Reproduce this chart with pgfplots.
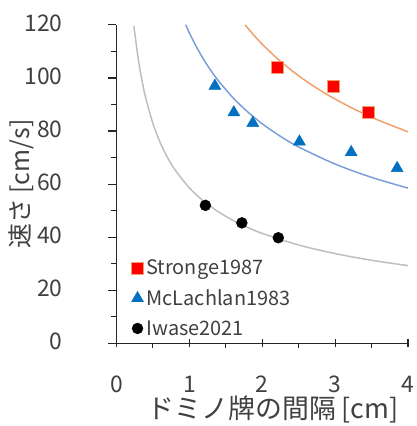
\documentclass[border=0pt]{standalone}
\usepackage{fontspec}
\setmainfont{Noto Sans CJK JP}
\usepackage{pgfplots}
\pgfplotsset{compat=1.18}
\definecolor{corange}{RGB}{240,160,106}
\definecolor{cblue}{RGB}{122,158,217}
\definecolor{cgray}{RGB}{190,190,190}
\definecolor{cred}{RGB}{255,0,0}
\definecolor{ctri}{RGB}{0,112,192}
\definecolor{ctext}{RGB}{64,64,64}
\begin{document}
\begin{tikzpicture}
\begin{axis}[
  scale only axis,
  width=293pt, height=320pt,
  xmin=0, xmax=4, ymin=0, ymax=120,
  axis lines=left,
  axis line style={-, line width=1.2pt, black!85},
  xtick={0,1,2,3,4}, ytick={0,20,...,120},
  minor xtick={0.5,1.5,2.5,3.5},
  minor ytick={10,30,...,110},
  tick align=outside,
  major tick length=8pt, minor tick length=5pt,
  every tick/.style={black!85, line width=1.2pt},
  major x tick style={yshift=4pt},
  /pgf/number format/assume math mode=true,
  tick label style={font=\fontsize{23}{25}\selectfont, ctext, inner sep=0pt},
  xticklabel style={anchor=center, yshift=-33pt},
  yticklabel style={anchor=east, xshift=-46pt, yshift=2pt},
  xlabel={ドミノ牌の間隔 [cm]},
  ylabel={速さ [cm/s]},
  every axis x label/.style={at={(axis description cs:0.5,0)}, anchor=center, xshift=11pt, yshift=-66pt, font=\fontsize{27}{29}\selectfont, text=ctext},
  every axis y label/.style={at={(axis description cs:0,0.5)}, anchor=center, rotate=90, yshift=96pt, font=\fontsize{25}{27}\selectfont, text=ctext},
  legend style={draw=none, fill=none, at={(0.051,0.266)}, anchor=north west,
    font=\fontsize{20}{22}\selectfont, row sep=11.5pt, inner sep=0pt,
    nodes={inner xsep=3pt, inner ysep=1pt, text=ctext}},
  legend image code/.code={\draw[mark repeat=2,mark phase=2,#1] plot coordinates {(0pt,0pt) (6pt,0pt) (12pt,0pt)};},
  legend cell align=left,
  clip=true,
]
% fitted curves
\addplot[forget plot, cgray, line width=1.5pt, smooth] coordinates {
(0.24,119.6)(0.25,117.2)(0.3,107.0)(0.35,99.05)(0.4,92.65)(0.5,82.87)(0.6,75.65)(0.7,70.04)(0.8,65.52)(1.0,58.6)(1.2,53.5)(1.4,49.53)(1.6,46.33)(1.8,43.68)(2.0,41.44)(2.5,37.06)(3.0,33.83)(3.5,31.32)(4.0,29.3)};
\addplot[forget plot, cblue, line width=1.5pt, smooth] coordinates {
(0.95,120.04)(1.0,117)(1.1,111.56)(1.2,106.81)(1.3,102.61)(1.4,98.88)(1.6,92.5)(1.8,87.21)(2.0,82.73)(2.25,78.0)(2.5,74.0)(3.0,67.55)(3.5,62.54)(4.0,58.5)};
\addplot[forget plot, corange, line width=1.5pt, smooth] coordinates {
(1.765,119.98)(1.9,115.64)(2.0,112.71)(2.2,107.47)(2.4,102.89)(2.6,98.85)(2.8,95.26)(3.0,92.03)(3.3,87.75)(3.6,84.01)(4.0,79.7)};
% data
\addplot[only marks, mark=square*, mark size=6pt, mark options={fill=cred, draw=corange, line width=0.6pt}] coordinates {
(2.21,104)(2.98,97)(3.45,87)};
\addlegendentry{Stronge1987}
\addplot[only marks, mark=triangle*, mark size=7pt, mark options={fill=ctri, draw=ctri}] coordinates {
(1.35,97)(1.61,87)(1.87,83)(2.51,76)(3.22,72)(3.85,66)};
\addlegendentry{McLachlan1983}
\addplot[only marks, mark=*, mark size=5.5pt, mark options={fill=black, draw=black}] coordinates {
(1.22,52)(1.72,45.4)(2.22,39.8)};
\addlegendentry{Iwase2021}
\path (rel axis cs:0,1) ++(-117pt,25pt) coordinate (TL);
\path (rel axis cs:1,0) ++(8pt,-81pt) coordinate (BR);
\end{axis}
\path[use as bounding box] (TL) rectangle (BR);
\end{tikzpicture}
\end{document}
